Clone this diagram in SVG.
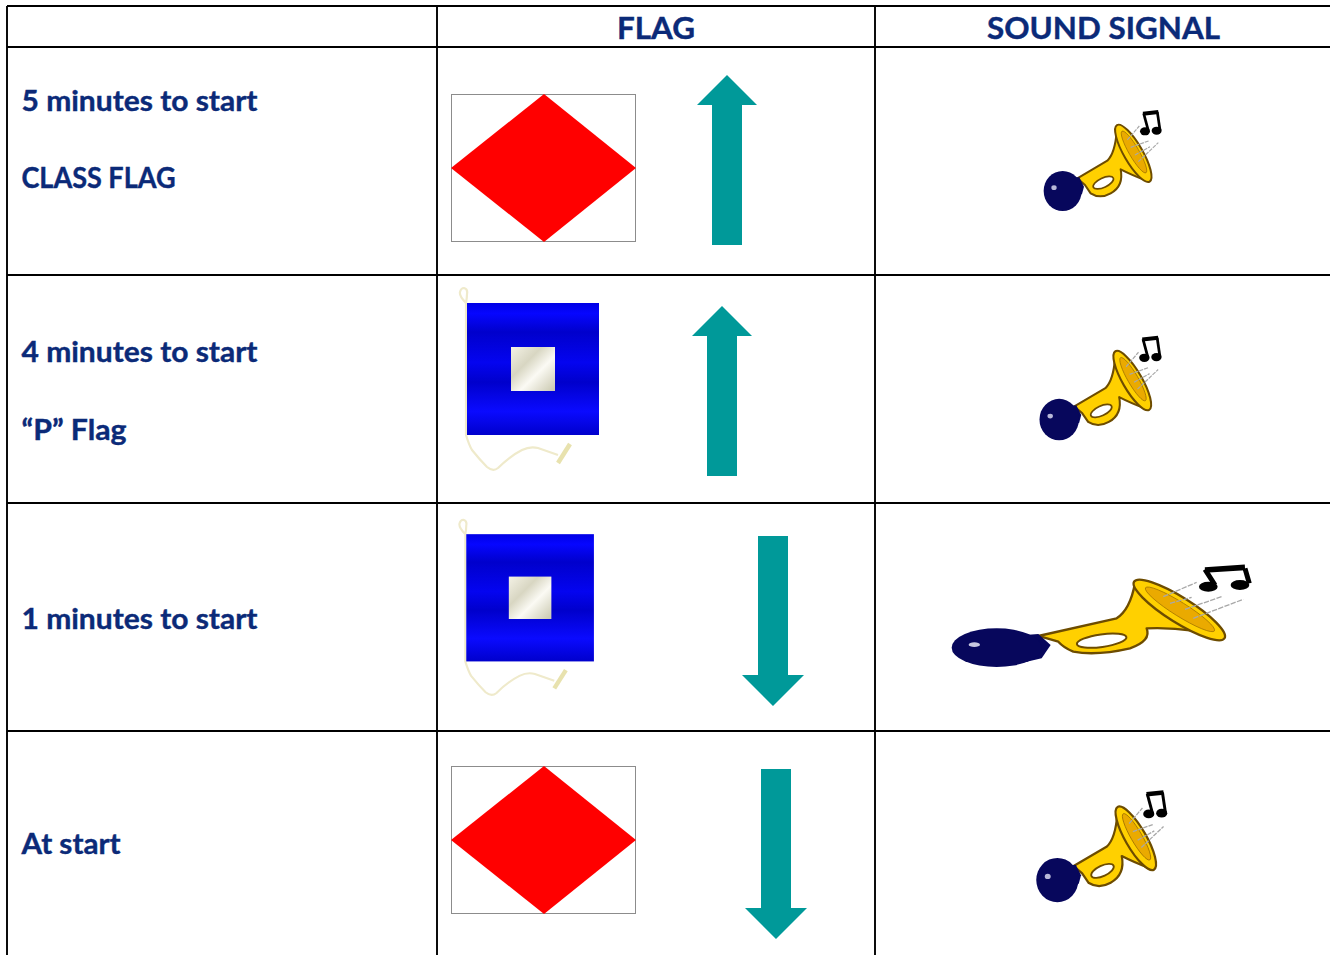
<svg xmlns="http://www.w3.org/2000/svg" xmlns:xlink="http://www.w3.org/1999/xlink" width="1330" height="955" viewBox="0 0 1330 955">
<style>
.t{font-family:Lato,"Liberation Sans",sans-serif;font-weight:700;font-size:28.5px;fill:#0b2a78;stroke:#0b2a78;stroke-width:.4}
.h{font-size:31px}
.g{stroke:#000;stroke-width:1.9;fill:none}
.arrow{fill:#009999}
.box{fill:#fff;stroke:#8c8c8c;stroke-width:1}
.dia{fill:#ff0000}
</style>
<defs>
<linearGradient id="bands" x1="0" y1="0" x2="0" y2="1">
<stop offset="0" stop-color="#0000e6"/><stop offset=".08" stop-color="#0606ff"/><stop offset=".22" stop-color="#0000cc"/><stop offset=".45" stop-color="#0404f0"/><stop offset=".6" stop-color="#0000cc"/><stop offset=".82" stop-color="#0a0aff"/><stop offset="1" stop-color="#0000cc"/>
</linearGradient>
<linearGradient id="cream" x1="0" y1="0" x2="1" y2="1">
<stop offset="0" stop-color="#f4f2e6"/><stop offset=".35" stop-color="#d8d6c2"/><stop offset=".6" stop-color="#fbfaf4"/><stop offset="1" stop-color="#c9c7ae"/>
</linearGradient>
<g id="pflag">
<path d="M21 23Q14 16 15 12Q16 8 19 8Q23 9 22 14Q22 18 21 23V155Q24 165 27 170Q35 180 42 187Q48 192 53 188Q65 176 77 170Q85 166 93 168L113 175" fill="none" stroke="#efeacb" stroke-width="2.2"/>
<path d="M113 183L125 164" stroke="#e8e2ae" stroke-width="4.5" fill="none"/>
<rect x="22" y="23" width="132" height="132" fill="url(#bands)"/>
<rect x="66" y="67" width="44" height="44" fill="url(#cream)"/>
</g>
<g id="horn">
<g stroke="#6d4c00" stroke-width="6" stroke-linejoin="round">
<path d="M172 265L262 212Q285 190 290 125L380 272Q335 255 302 238Q312 288 272 310Q240 328 212 310L195 285Z" fill="#ffd000"/>
<ellipse cx="340" cy="190" rx="98" ry="28" transform="rotate(60 340 190)" fill="#ffd000"/>
<ellipse cx="342" cy="186" rx="72" ry="15" transform="rotate(60 342 186)" fill="#eaaa00" stroke="#9a6c00" stroke-width="2"/>
<ellipse cx="250" cy="278" rx="33" ry="14" transform="rotate(-25 250 278)" fill="#fff" stroke-width="5"/>
</g>
<path d="M160 262L178 262L192 290L186 312L165 325Z" fill="#07075c"/>
<ellipse cx="128" cy="303" rx="57" ry="60" fill="#07075c"/>
<ellipse cx="102" cy="293" rx="8" ry="7" fill="#b8b8d8"/>
<g stroke="#a8a8a8" stroke-width="3.5" fill="none" stroke-dasharray="12 3">
<path d="M322 150L358 108M332 172L388 152M345 195L390 170M355 215L415 158"/>
</g>
<ellipse cx="375" cy="124" rx="15" ry="12"/><ellipse cx="410" cy="122" rx="15" ry="12"/>
<path d="M385 122L371 70" fill="none" stroke="#000" stroke-width="8"/>
<path d="M420 120L412 66" fill="none" stroke="#000" stroke-width="8"/>
<path d="M369 71L415 66" fill="none" stroke="#000" stroke-width="12"/>
</g>
</defs>
<rect width="1330" height="955" fill="#fff"/>
<g id="table" class="g">
<path d="M7 6H1330M7 47H1330M7 275H1330M7 503H1330M7 731H1330M7 6V955M437 6V955M875 6V955"/>
</g>
<g id="headers">
<text class="t h" x="617" y="39" textLength="78" lengthAdjust="spacingAndGlyphs">FLAG</text>
<text class="t h" x="987" y="39" textLength="233" lengthAdjust="spacingAndGlyphs">SOUND SIGNAL</text>
</g>
<g id="row1">
<text class="t" x="21.5" y="110.5" textLength="236" lengthAdjust="spacingAndGlyphs">5 minutes to start</text>
<text class="t" x="21.5" y="188" textLength="154" lengthAdjust="spacingAndGlyphs">CLASS FLAG</text>
<rect class="box" x="451.5" y="94.5" width="184" height="147"/>
<path class="dia" d="M544 94L636 168L544 242L451 168Z"/>
<path class="arrow" d="M727 75L757 105H742V245H712V105H697Z"/>
<use xlink:href="#horn" href="#horn" transform="matrix(.3333 0 0 .3333 1020 90)"/>
</g>
<g id="row2">
<text class="t" x="21.5" y="361.5" textLength="236" lengthAdjust="spacingAndGlyphs">4 minutes to start</text>
<text class="t" x="21.5" y="439.5" textLength="105" lengthAdjust="spacingAndGlyphs">“P” Flag</text>
<use xlink:href="#pflag" href="#pflag" transform="translate(445 280)"/>
<path class="arrow" d="M722 306L752 336H737V476H707V336H692Z"/>
<use xlink:href="#horn" href="#horn" transform="matrix(.345 0 0 .345 1015 315)"/>
</g>
<g id="row3">
<text class="t" x="21.5" y="628.5" textLength="236" lengthAdjust="spacingAndGlyphs">1 minutes to start</text>
<use xlink:href="#pflag" href="#pflag" transform="translate(445 512) scale(.967 .964)"/>
<path class="arrow" d="M758 536H788V675H804L773 706L742 675H758Z"/>
<g id="horn-wide" transform="translate(930 550) scale(.3333)">
<g stroke="#6d4c00" stroke-width="7" stroke-linejoin="round">
<path d="M325 258L560 205Q600 180 615 100L880 265Q780 230 650 235Q665 272 600 295Q500 318 430 305Q400 292 385 275Z" fill="#ffd000"/>
<ellipse cx="748" cy="180" rx="160" ry="38" transform="rotate(32 748 180)" fill="#ffd000"/>
<ellipse cx="750" cy="178" rx="122" ry="21" transform="rotate(32 750 178)" fill="#eaaa00" stroke="#9a6c00" stroke-width="2"/>
<ellipse cx="515" cy="272" rx="75" ry="19" transform="rotate(-8 515 272)" fill="#fff" stroke-width="6"/>
</g>
<path d="M285 255L325 252L362 285L335 325L250 345Z" fill="#07075c"/>
<ellipse cx="200" cy="293" rx="135" ry="58" fill="#07075c"/>
<ellipse cx="133" cy="284" rx="17" ry="7" fill="#c8c8e0"/>
<g stroke="#a8a8a8" stroke-width="4" fill="none" stroke-dasharray="16 4">
<path d="M700 140L800 97M720 160L785 142M765 178L875 140M790 205L940 148"/>
</g>
<ellipse cx="835" cy="110" rx="28" ry="15"/><ellipse cx="930" cy="105" rx="28" ry="15"/>
<path d="M855 105L825 58M958 100L945 55" stroke="#000" stroke-width="15" fill="none"/>
<path d="M825 60L945 52" stroke="#000" stroke-width="17" fill="none"/>
</g>
</g>
<g id="row4">
<text class="t" x="21.5" y="853.5" textLength="99" lengthAdjust="spacingAndGlyphs">At start</text>
<rect class="box" x="451.5" y="766.5" width="184" height="147"/>
<path class="dia" d="M544 766L636 840L544 914L451 840Z"/>
<path class="arrow" d="M761 769H791V908H807L776 939L745 908H761Z"/>
<use xlink:href="#horn" href="#horn" transform="matrix(.37 0 0 .37 1010 768)"/>
</g>
</svg>
